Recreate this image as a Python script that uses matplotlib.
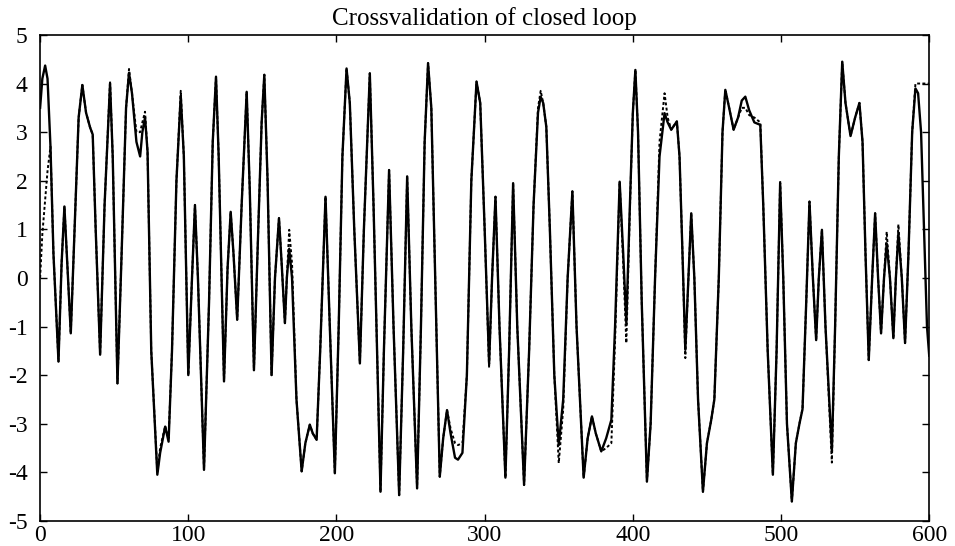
import numpy as np
import matplotlib
matplotlib.use('Agg')
import matplotlib.pyplot as plt

t = [0, 1.5, 3.4, 5, 7, 9, 12.4, 14.5, 16.4, 18.5, 20.7, 23, 26, 28.5, 31, 33.7, 35.5, 37.5, 40.5,
     43.5, 47.2, 49, 52.2, 55, 58, 60, 62, 65, 67.5, 69, 70.8, 72.5, 75, 79.1, 81, 84.4, 86.7, 89,
     92, 94.9, 97, 100, 102.5, 104.5, 106.5, 110.6, 114, 116.5, 118.7, 120.5, 124.1, 126.5, 128.6,
     130.5, 133, 136, 139.4, 141.5, 144.3, 147, 149.5, 151.3, 153.5, 156.2, 158.5, 161.2, 163,
     165.2, 166.5, 168.1, 170, 173, 176.5, 179, 182, 184, 186.6, 189, 192.6, 195.5, 198.9, 201.5,
     204, 206.8, 209, 212, 215.8, 218.5, 222.5, 225, 229.7, 232, 235.5, 238.5, 242.3, 245, 247.7,
     250.5, 254.4, 257, 259.5, 261.8, 264, 267, 269.7, 272, 274.6, 277, 280, 282, 285, 288, 291,
     294.5, 297, 300, 303, 305, 307.3, 310, 314, 316.5, 319.2, 322, 326.6, 330, 333, 336, 337.8,
     339.5, 341.6, 344, 347, 350, 353, 356, 359.2, 362, 366.8, 369.5, 372.4, 375, 378.7, 382,
     385.5, 388, 391.1, 393.5, 395.6, 398, 400, 401.7, 403.5, 406, 409.5, 412, 415, 418, 421.4,
     423.5, 425.9, 429.7, 431.5, 433.5, 435.4, 437.5, 439.4, 441.5, 444, 447.3, 450, 452.9, 455,
     458, 460.5, 462.4, 465, 468, 471, 473.5, 475.9, 478.5, 482, 486, 488, 491, 494.5, 497,
     499.4, 501.5, 504, 507.3, 510, 512.5, 514.5, 517, 519.2, 521.5, 523.7, 525.5, 527.6, 530,
     534.3, 536.5, 539, 541.3, 543.5, 546.9, 550, 552.9, 555, 557, 559.2, 561.5, 563.5, 565.5,
     567.5, 569.5, 571.3, 573.5, 575.8, 577.5, 579.2, 581.5, 583.7, 586, 588.5, 590.7, 592.5,
     594.5, 596.5, 598.5, 600]

y_model = [3.5, 4.1, 4.37, 4.1, 2.7, 0.5, -1.72, 0.3, 1.47, 0.2, -1.14, 0.8, 3.3, 3.97, 3.4, 3.1,
           2.95, 1.0, -1.58, 1.5, 4.0, 2.5, -2.17, 0.5, 3.5, 4.22, 3.8, 2.8, 2.5, 3.0, 3.3, 2.6,
           -1.5, -4.05, -3.6, -3.06, -3.37, -1.5, 2.0, 3.75, 2.5, -2.0, 0.0, 1.5, 0.0, -3.95, -0.5,
           2.8, 4.14, 2.5, -2.13, 0.2, 1.36, 0.5, -0.86, 1.5, 3.83, 1.8, -1.9, 0.8, 3.2, 4.18, 2.0,
           -2.0, 0.0, 1.23, 0.3, -0.93, 0.0, 0.6, 0.0, -2.5, -3.98, -3.4, -3.02, -3.2, -3.33, -1.5,
           1.67, -1.0, -4.02, -1.0, 2.5, 4.31, 3.6, 1.0, -1.76, 1.0, 4.21, 1.5, -4.4, -1.5, 2.22,
           -1.0, -4.47, -1.5, 2.09, -1.0, -4.33, -1.0, 2.8, 4.42, 3.5, -0.5, -4.09, -3.3, -2.72,
           -3.2, -3.7, -3.74, -3.6, -2.0, 2.0, 4.04, 3.6, 1.0, -1.76, 0.0, 1.67, -1.0, -4.11, -1.5,
           1.95, -1.0, -4.26, -1.5, 1.5, 3.4, 3.73, 3.6, 3.11, 1.0, -2.0, -3.44, -2.5, 0.0, 1.78,
           -1.0, -4.11, -3.3, -2.85, -3.2, -3.57, -3.3, -2.92, -1.0, 1.98, 0.5, -0.93, 1.5, 3.4,
           4.28, 3.0, -0.5, -4.19, -3.0, 0.0, 2.5, 3.39, 3.2, 3.05, 3.22, 2.5, 0.5, -1.48, 0.0,
           1.33, 0.0, -2.5, -4.4, -3.4, -2.92, -2.5, 0.0, 3.0, 3.87, 3.5, 3.05, 3.3, 3.65, 3.73,
           3.45, 3.2, 3.15, 1.5, -1.5, -4.05, -1.5, 1.95, 0.0, -3.0, -4.6, -3.4, -2.99, -2.7, -0.5,
           1.57, 0.0, -1.28, 0.0, 0.99, -1.0, -3.57, -1.0, 2.5, 4.45, 3.6, 2.92, 3.3, 3.6, 2.8,
           0.5, -1.69, 0.0, 1.33, 0.0, -1.14, 0.0, 0.71, 0.0, -1.24, 0.0, 0.92, 0.0, -1.34, 0.5,
           3.0, 3.9, 3.8, 3.0, 1.0, -1.0, -1.6]

y_meas = [0.0, 0.9, 1.6, 2.2, 2.7, 0.5, -1.72, 0.3, 1.47, 0.2, -1.14, 0.8, 3.3, 3.97, 3.4, 3.1,
          2.95, 1.0, -1.58, 1.5, 4.05, 2.5, -2.17, 0.5, 3.5, 4.3, 3.8, 3.0, 3.0, 3.2, 3.42, 2.6,
          -1.5, -4.0, -3.5, -3.05, -3.3, -1.5, 2.0, 3.85, 2.5, -2.0, 0.0, 1.5, 0.0, -3.95, -0.5,
          2.8, 4.14, 2.5, -2.13, 0.2, 1.36, 0.5, -0.86, 1.5, 3.83, 1.8, -1.9, 0.8, 3.2, 4.18, 2.0,
          -2.0, 0.0, 1.23, 0.3, -0.93, 0.0, 0.99, 0.3, -2.5, -3.98, -3.4, -3.02, -3.2, -3.33, -1.5,
          1.67, -1.0, -4.02, -1.0, 2.5, 4.31, 3.6, 1.0, -1.76, 1.0, 4.21, 1.5, -4.4, -1.5, 2.22,
          -1.0, -4.47, -1.5, 2.09, -1.0, -4.33, -1.0, 2.8, 4.42, 3.5, -0.5, -4.09, -3.3, -2.72,
          -3.1, -3.4, -3.44, -3.4, -2.0, 2.0, 4.04, 3.6, 1.0, -1.85, 0.0, 1.67, -1.0, -4.11, -1.5,
          1.95, -1.0, -4.26, -1.5, 1.5, 3.5, 3.85, 3.6, 3.11, 1.0, -2.0, -3.81, -2.7, 0.0, 1.78,
          -1.0, -4.11, -3.3, -2.85, -3.2, -3.57, -3.5, -3.4, -1.3, 1.98, 0.3, -1.34, 1.4, 3.4,
          4.28, 3.0, -0.5, -4.19, -3.0, 0.0, 2.8, 3.8, 3.3, 3.05, 3.22, 2.5, 0.5, -1.65, 0.0,
          1.33, 0.0, -2.5, -4.4, -3.4, -2.92, -2.5, 0.0, 3.0, 3.87, 3.5, 3.05, 3.3, 3.5, 3.5,
          3.35, 3.3, 3.2, 1.5, -1.5, -4.05, -1.5, 2.0, 0.0, -3.0, -4.6, -3.4, -2.99, -2.7, -0.5,
          1.57, 0.0, -1.28, 0.0, 0.99, -1.0, -3.8, -1.0, 2.5, 4.45, 3.6, 2.92, 3.3, 3.6, 2.8,
          0.5, -1.69, 0.0, 1.33, 0.0, -1.14, 0.0, 0.95, 0.0, -1.24, 0.0, 1.1, 0.0, -1.34, 0.5,
          3.0, 4.0, 4.0, 4.0, 4.0, 4.0, 4.0]

x_ticks = [0, 100, 200, 300, 400, 500, 600]
y_ticks = [-5, -4, -3, -2, -1, 0, 1, 2, 3, 4, 5]

plt.rcParams['font.family'] = ['Liberation Serif', 'DejaVu Serif']
plt.rcParams['axes.unicode_minus'] = False

fig = plt.figure(figsize=(9.55, 5.46), dpi=100)
ax = fig.add_axes([0.042, 0.046, 0.931, 0.890])

ax.plot(t, y_meas, color='black', linestyle=(0, (1.5, 1.2)), linewidth=1.4)
ax.plot(t, y_model, color='black', linestyle='-', linewidth=1.7, solid_joinstyle='round')

ax.set_xlim(0, 600)
ax.set_ylim(-5, 5)
ax.set_xticks(x_ticks)
ax.set_yticks(y_ticks)
ax.tick_params(direction='in', length=5, width=1, top=True, right=True,
               labelsize=17)
ax.tick_params(axis='y', pad=9)
ax.tick_params(axis='x', pad=3)
for s in ax.spines.values():
    s.set_linewidth(1.2)
ax.set_title('Crossvalidation of closed loop', fontsize=18, pad=7)

fig.savefig('out.png', dpi=100)
